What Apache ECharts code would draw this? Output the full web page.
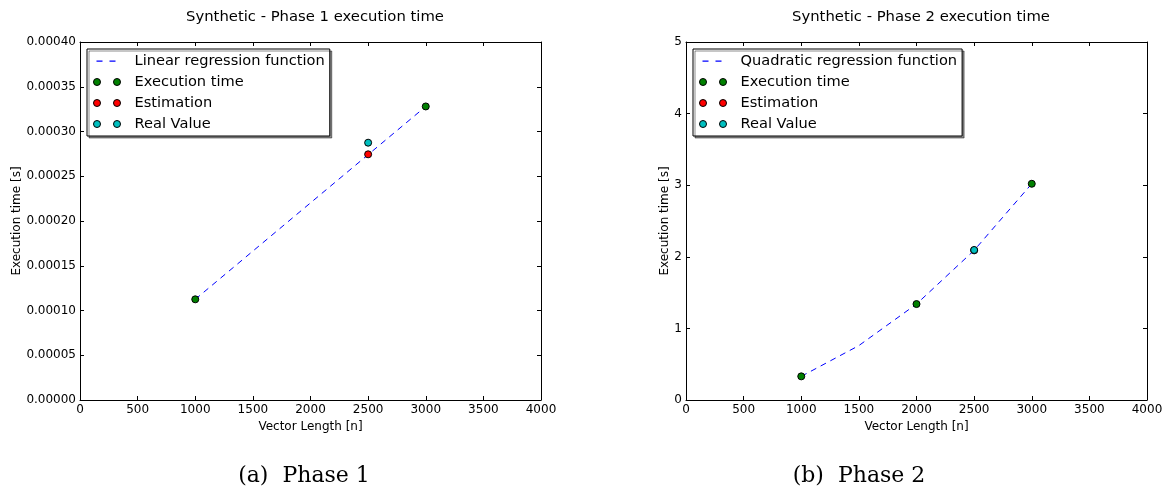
<!DOCTYPE html>
<html>
<head>
<meta charset="utf-8">
<title>Synthetic execution time</title>
<script src="https://cdn.jsdelivr.net/npm/echarts@6/dist/echarts.min.js"></script>
<style>
    html, body { margin: 0; padding: 0; background: #fff; }
    #chart { width: 1167px; height: 494px; }
</style>
</head>
<body>
<div id="chart"></div>
<script>
// 数据
var titles = ['Synthetic - Phase 1 execution time', 'Synthetic - Phase 2 execution time'];
var captions = ['(a)  Phase 1', '(b)  Phase 2'];
var regressionNames = ['Linear regression function', 'Quadratic regression function'];

// Phase 1
var p1RegX = [1000, 3000];
var p1RegY = [0.0001125, 0.000328];
var p1ExecX = [1000, 3000];
var p1ExecY = [0.0001125, 0.000328];
var p1EstX = [2500];
var p1EstY = [0.0002745];
var p1RealX = [2500];
var p1RealY = [0.0002875];

// Phase 2
var p2RegX = [1000, 1500, 2000, 2500, 3000];
var p2RegY = [0.33, 0.76, 1.34, 2.09, 3.02];
var p2ExecX = [1000, 2000, 3000];
var p2ExecY = [0.33, 1.34, 3.02];
var p2EstX = [2500];
var p2EstY = [2.09];
var p2RealX = [2500];
var p2RealY = [2.095];

// 坐标轴范围
var xMin = 0, xMax = 4000, xStep = 500;
var y1Min = 0, y1Max = 0.0004, y1Step = 0.00005;
var y2Min = 0, y2Max = 5, y2Step = 1;

var FONT = 'DejaVu Sans';
var gridLeft = [80, 686];

function zip(xs, ys) {
    var out = [];
    for (var i = 0; i < xs.length; i++) {
        out.push([xs[i], ys[i]]);
    }
    return out;
}

function xAxisOf(idx, pos) {
    return {
        type: 'value', gridIndex: idx, position: pos,
        min: xMin, max: xMax, interval: xStep,
        name: pos === 'bottom' ? 'Vector Length [n]' : '',
        nameLocation: 'middle', nameGap: 18,
        nameTextStyle: { fontFamily: FONT, fontSize: 12, color: '#000' },
        axisLine: { show: true, onZero: false, lineStyle: { color: '#000', width: 1 } },
        axisTick: { show: true, inside: true, length: 4, lineStyle: { color: '#000' } },
        axisLabel: {
            show: pos === 'bottom', margin: 4, fontFamily: FONT, fontSize: 12, color: '#000',
            formatter: function (v) { return String(v); }
        },
        splitLine: { show: false }
    };
}

function yAxisOf(idx, pos, min, max, step, fmt, gap) {
    return {
        type: 'value', gridIndex: idx, position: pos,
        min: min, max: max, interval: step,
        name: pos === 'left' ? 'Execution time [s]' : '',
        nameLocation: 'middle', nameGap: gap,
        nameTextStyle: { fontFamily: FONT, fontSize: 12, color: '#000' },
        axisLine: { show: true, onZero: false, lineStyle: { color: '#000', width: 1 } },
        axisTick: { show: true, inside: true, length: 4, lineStyle: { color: '#000' } },
        axisLabel: { show: pos === 'left', margin: 4, fontFamily: FONT, fontSize: 12, color: '#000', formatter: fmt },
        splitLine: { show: false }
    };
}

// 图例图标
var dotsIcon = 'path://M0,3.5a3.5,3.5 0 1,0 7,0a3.5,3.5 0 1,0 -7,0zM20,3.5a3.5,3.5 0 1,0 7,0a3.5,3.5 0 1,0 -7,0z';
var dashIcon = 'path://M0,0M3,3h6v1.2h-6zM16,3h6v1.2h-6zM27,7';

function legendOf(idx) {
    return {
        orient: 'vertical',
        left: gridLeft[idx] + 7, top: 49,
        padding: [4, 5, 4, 6],
        itemGap: 5, itemWidth: 27, itemHeight: 7,
        backgroundColor: '#fff',
        borderColor: '#000', borderWidth: 1, borderRadius: 0,
        shadowColor: 'rgba(0,0,0,0.45)', shadowBlur: 0, shadowOffsetX: 2, shadowOffsetY: 2,
        textStyle: { fontFamily: FONT, fontSize: 14.6, color: '#000', lineHeight: 16, padding: [0, 0, 0, 9] },
        selectedMode: false,
        data: [
            { name: regressionNames[idx], icon: dashIcon, itemStyle: { color: '#0000ff', borderWidth: 0 } },
            { name: 'Execution time', icon: dotsIcon, itemStyle: { color: '#008000', borderColor: '#000', borderWidth: 1 } },
            { name: 'Estimation', icon: dotsIcon, itemStyle: { color: '#ff0000', borderColor: '#000', borderWidth: 1 } },
            { name: 'Real Value', icon: dotsIcon, itemStyle: { color: '#00bfbf', borderColor: '#000', borderWidth: 1 } }
        ]
    };
}

function seriesOf(idx, regX, regY, exX, exY, esX, esY, reX, reY) {
    var ax = idx * 2;
    return [
        {
            name: regressionNames[idx], type: 'line', xAxisIndex: ax, yAxisIndex: ax,
            data: zip(regX, regY), showSymbol: false, symbol: 'none', z: 2,
            lineStyle: { color: '#0000ff', width: 1, type: [6, 5] },
            itemStyle: { color: '#0000ff' }
        },
        {
            name: 'Execution time', type: 'scatter', xAxisIndex: ax, yAxisIndex: ax,
            data: zip(exX, exY), symbol: 'circle', symbolSize: 7, z: 3,
            itemStyle: { color: '#008000', borderColor: '#000', borderWidth: 1, opacity: 1 }
        },
        {
            name: 'Estimation', type: 'scatter', xAxisIndex: ax, yAxisIndex: ax,
            data: zip(esX, esY), symbol: 'circle', symbolSize: 7, z: 4,
            itemStyle: { color: '#ff0000', borderColor: '#000', borderWidth: 1, opacity: 1 }
        },
        {
            name: 'Real Value', type: 'scatter', xAxisIndex: ax, yAxisIndex: ax,
            data: zip(reX, reY), symbol: 'circle', symbolSize: 7, z: 5,
            itemStyle: { color: '#00bfbf', borderColor: '#000', borderWidth: 1, opacity: 1 }
        }
    ];
}

var titleStyle = { fontFamily: FONT, fontSize: 14.8, fontWeight: 'normal', color: '#000' };
var captionStyle = { fontFamily: 'DejaVu Serif', fontSize: 22, fontWeight: 'normal', color: '#000' };

var option = {
    animation: false,
    backgroundColor: '#fff',
    title: [
        { text: titles[0], left: 310, top: 5, textAlign: 'center', textStyle: titleStyle },
        { text: titles[1], left: 916, top: 5, textAlign: 'center', textStyle: titleStyle },
        { text: captions[0], left: 299, top: 460, textAlign: 'center', textStyle: captionStyle },
        { text: captions[1], left: 854, top: 460, textAlign: 'center', textStyle: captionStyle }
    ],
    grid: [
        { left: gridLeft[0], top: 42, width: 461, height: 358 },
        { left: gridLeft[1], top: 42, width: 461, height: 358 }
    ],
    legend: [legendOf(0), legendOf(1)],
    xAxis: [
        xAxisOf(0, 'bottom'), xAxisOf(0, 'top'),
        xAxisOf(1, 'bottom'), xAxisOf(1, 'top')
    ],
    yAxis: [
        yAxisOf(0, 'left', y1Min, y1Max, y1Step, function (v) { return v.toFixed(5); }, 56),
        yAxisOf(0, 'right', y1Min, y1Max, y1Step, null, 0),
        yAxisOf(1, 'left', y2Min, y2Max, y2Step, function (v) { return String(Math.round(v)); }, 15),
        yAxisOf(1, 'right', y2Min, y2Max, y2Step, null, 0)
    ],
    series: [].concat(
        seriesOf(0, p1RegX, p1RegY, p1ExecX, p1ExecY, p1EstX, p1EstY, p1RealX, p1RealY),
        seriesOf(1, p2RegX, p2RegY, p2ExecX, p2ExecY, p2EstX, p2EstY, p2RealX, p2RealY)
    )
};

var chart = echarts.init(document.getElementById('chart'));
chart.setOption(option);
</script>
</body>
</html>
